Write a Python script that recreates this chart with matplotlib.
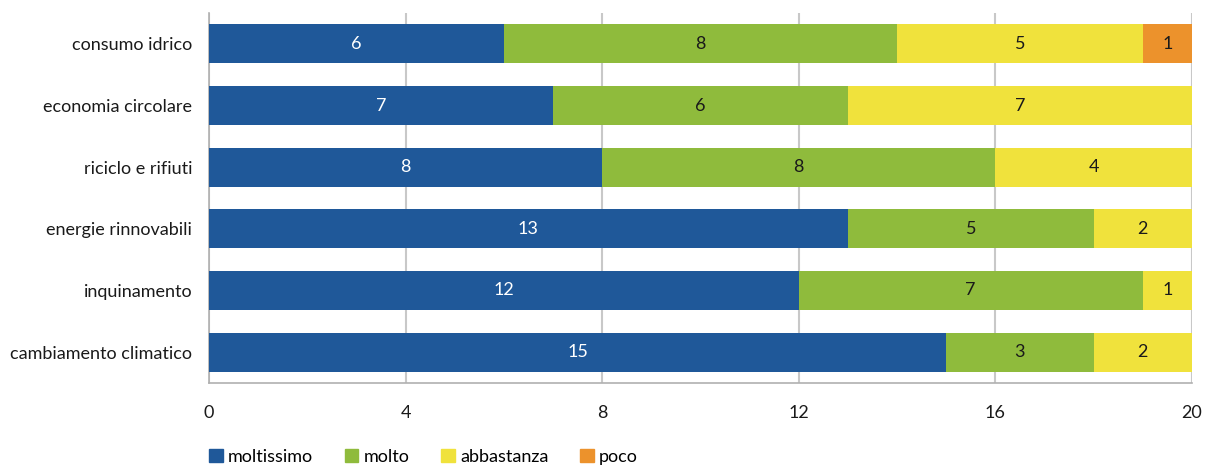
import numpy as np
import matplotlib
matplotlib.use("Agg")
import matplotlib.pyplot as plt
import matplotlib.patches as patches

# dati
categorie = ["consumo idrico", "economia circolare", "riciclo e rifiuti",
             "energie rinnovabili", "inquinamento", "cambiamento climatico"]
moltissimo = [6, 7, 8, 13, 12, 15]
molto = [8, 6, 8, 5, 7, 3]
abbastanza = [5, 7, 4, 2, 1, 2]
poco = [1, 0, 0, 0, 0, 0]

serie = ["moltissimo", "molto", "abbastanza", "poco"]
valori = [moltissimo, molto, abbastanza, poco]
colori = ["#1f5899", "#8fbb3c", "#f0e23c", "#ec922c"]
col_testo = ["white", "#1a1a1a", "#1a1a1a", "#1a1a1a"]

plt.rcParams["font.family"] = ["Lato", "DejaVu Sans"]

fig = plt.figure(figsize=(12.06, 4.67), dpi=100)
ax = fig.add_axes([0.1733, 0.18, 0.815, 0.792])

y = np.arange(len(categorie))
left = np.zeros(len(categorie))
for nome, v, c, tc in zip(serie, valori, colori, col_testo):
    v = np.array(v, dtype=float)
    bars = ax.barh(y, v, left=left, height=0.63, color=c, label=nome, zorder=3)
    for b, val in zip(bars, v):
        if val > 0:
            ax.text(b.get_x() + b.get_width() / 2, b.get_y() + b.get_height() / 2,
                    f"{int(val)}", ha="center", va="center", color=tc,
                    fontsize=13, zorder=4)
    left += v

ax.set_xlim(0, 20)
ax.set_ylim(len(categorie) - 0.5, -0.5)
ax.set_xticks(np.arange(0, 21, 4))
ax.set_yticks(y)
ax.set_yticklabels(categorie)
ax.tick_params(axis="both", length=0, labelsize=13, colors="#1a1a1a")
ax.tick_params(axis="x", pad=16)
ax.tick_params(axis="y", pad=12)
ax.grid(axis="x", color="#c8c8c8", linewidth=1.5, zorder=0)
for s in ["top", "right"]:
    ax.spines[s].set_visible(False)
for s in ["left", "bottom"]:
    ax.spines[s].set_color("#b0b0b0")
    ax.spines[s].set_linewidth(1.2)

handles = [patches.Patch(color=c, label=n) for n, c in zip(serie, colori)]
fig.legend(handles=handles, loc="lower left", bbox_to_anchor=(0.16, -0.03),
           ncol=4, frameon=False, fontsize=13, handlelength=0.75, handleheight=0.75,
           handletextpad=0.3, columnspacing=1.75)

fig.savefig("out.png", dpi=100)
